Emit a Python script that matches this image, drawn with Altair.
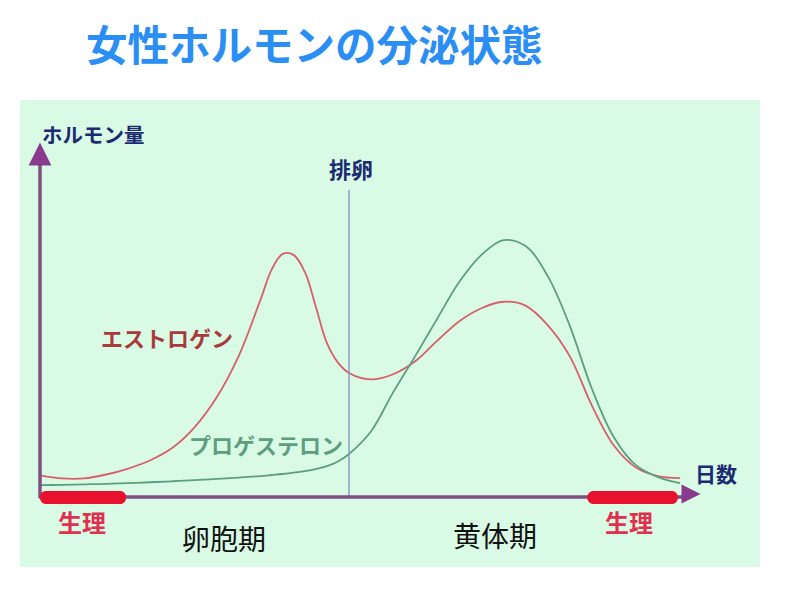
import altair as alt
import pandas as pd

# ---- data ----
days = [0, 1, 2, 3, 4, 5, 6, 7, 8, 9, 10, 10.5, 11, 11.5, 12, 12.5, 13, 13.5, 14,
        15, 16, 17, 18, 19, 20, 21, 22, 23, 24, 25, 26, 27, 28, 29]
estrogen = [8.0, 6.8, 6.8, 8.3, 10.6, 13.8, 18.6, 26.5, 38, 54, 76, 87.5, 93.5, 93, 86.5, 73, 59, 51.5, 47.5,
            45, 47, 52, 60, 67.5, 72.5, 75, 73.5, 66, 54, 35, 19.5, 11, 7.7, 6.9]
progesterone = [4.2, 4.3, 4.5, 4.7, 5.0, 5.3, 5.7, 6.1, 6.6, 7.1, 7.7, 8.1, 8.5, 9.0, 9.6, 10.4, 11.5, 13.3, 16.2,
                25, 40, 54, 68.5, 82.7, 93.1, 98.8, 96.5, 85, 65.8, 41.5, 22.7, 11.9, 7.3, 5.0]
series_names = ["エストロゲン", "プロゲステロン"]
series_colors = ["#d65f6b", "#5c9e7e"]
ovulation_day = [14]
period_start = [0, 24.8]
period_end = [3.9, 28.9]

rows = []
for d, e, p in zip(days, estrogen, progesterone):
    rows.append({"day": d, "level": e, "hormone": series_names[0]})
    rows.append({"day": d, "level": p, "hormone": series_names[1]})
df = pd.DataFrame(rows)
ov = pd.DataFrame({"day": ovulation_day})
per = pd.DataFrame({"start": period_start, "end": period_end})

xs = alt.Scale(domain=[0, 28], range=[40, 658], nice=False, zero=False)
ys = alt.Scale(domain=[0, 100], range=[496, 237], nice=False, zero=False)

one = pd.DataFrame({"k": [0]})
base = alt.Chart(one)

panel = base.mark_rect(color="#d9fbe5").encode(
    x=alt.value(20), x2=alt.value(760), y=alt.value(100), y2=alt.value(567))

curves = alt.Chart(df).mark_line(interpolate="catmull-rom", strokeWidth=1.8).encode(
    x=alt.X("day:Q", scale=xs, axis=None),
    y=alt.Y("level:Q", scale=ys, axis=None),
    color=alt.Color("hormone:N", scale=alt.Scale(domain=series_names, range=series_colors), legend=None),
)

ov_line = alt.Chart(ov).mark_rule(color="#8c9dc2", strokeWidth=1.5).encode(
    x=alt.X("day:Q", scale=xs, axis=None), y=alt.value(190), y2=alt.value(497))

axis_col = "#7d4f82"
y_axis = base.mark_rule(color=axis_col, strokeWidth=3.5).encode(
    x=alt.value(40), y=alt.value(498), y2=alt.value(160))
x_axis = base.mark_rule(color=axis_col, strokeWidth=3.5).encode(
    x=alt.value(39), x2=alt.value(688), y=alt.value(497))

y_arrow = base.mark_point(shape="M-1,1L0,-1L1,1Z", filled=True, opacity=1,
                          color="#8a3a8e", size=520).encode(
    x=alt.value(40), y=alt.value(154))
x_arrow = base.mark_point(shape="M-1,-1L1,0L-1,1Z", filled=True, opacity=1,
                          color="#8a3a8e", size=360).encode(
    x=alt.value(691), y=alt.value(494))

periods = alt.Chart(per).mark_rect(color="#e8122e", cornerRadius=6).encode(
    x=alt.X("start:Q", scale=xs, axis=None), x2="end:Q",
    y=alt.value(491), y2=alt.value(504))

FONT = "Noto Sans CJK JP"


def label(txt, x, y, size, color, weight="bold", align="center"):
    return base.mark_text(font=FONT, fontSize=size, fontWeight=weight, color=color,
                          align=align, baseline="middle").encode(
        x=alt.value(x), y=alt.value(y), text=alt.value(txt))


texts = [
    label("女性ホルモンの分泌状態", 86, 49, 41.5, "#2b8ef5", align="left"),
    label("ホルモン量", 42, 137, 20.5, "#1c2a72", align="left"),
    label("排卵", 351, 171, 22, "#1c2a72"),
    label("日数", 716, 476, 21, "#1c2a72"),
    label("エストロゲン", 167, 340, 22, "#a83a3c"),
    label("プロゲステロン", 266, 447, 22, "#5e9e7e"),
    label("生理", 82, 525, 24, "#e0304f"),
    label("生理", 629, 525, 24, "#e0304f"),
    label("卵胞期", 224, 542, 28, "#111111", weight="normal"),
    label("黄体期", 495, 539, 28, "#111111", weight="normal"),
]

chart = alt.layer(panel, curves, ov_line, y_axis, x_axis, periods, y_arrow, x_arrow, *texts).properties(
    width=800, height=601, padding=0, autosize="none", background="white"
).configure_view(stroke=None)

chart.save("out.html", embed_options={"renderer": "svg", "actions": False})
